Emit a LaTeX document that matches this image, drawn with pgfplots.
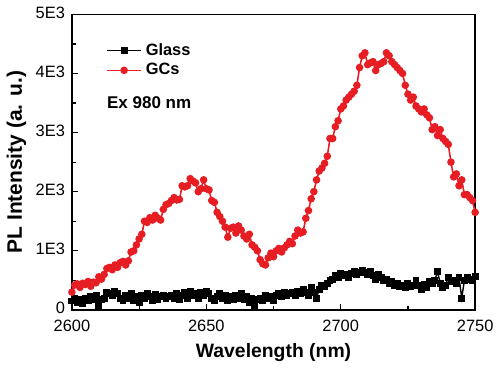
\documentclass[border=0pt]{standalone}
\usepackage{pgfplots}
\pgfplotsset{compat=1.18}
\usepackage{fontspec}
\setmainfont{Liberation Sans}
\definecolor{gcred}{RGB}{230,30,35}
\begin{document}
\begin{tikzpicture}
\begin{axis}[
  scale only axis,
  width=204pt, height=149.5pt,
  xmin=2600, xmax=2750, ymin=0, ymax=5000,
  xtick={2600,2650,2700,2750},
  ytick={0,1000,2000,3000,4000,5000},
  yticklabels={0,1E3,2E3,3E3,4E3,5E3},
  minor xtick={2625,2675,2725},
  minor ytick={500,1500,2500,3500,4500},
  xticklabel style={/pgf/number format/1000 sep={}, yshift=-1.5pt},
  yticklabel style={yshift=1pt},
  /pgf/number format/assume math mode=true,
  tick align=inside,
  xtick pos=bottom, ytick pos=left,
  major tick length=3pt, minor tick length=2pt,
  every tick/.style={black, line width=0.6pt},
  axis line style={line width=0.7pt},
  tick label style={font=\fontsize{8.3}{10}\selectfont},
  xlabel={\bfseries Wavelength (nm)},
  ylabel={\bfseries PL Intensity (a. u.)},
  xlabel style={font=\fontsize{9.8}{11}\selectfont, yshift=1pt},
  ylabel style={font=\fontsize{10.6}{12}\selectfont, yshift=-2pt},
  legend style={at={(rel axis cs:0.07,0.93)}, anchor=north west, draw=none, fill=none,
    font=\bfseries\fontsize{8.3}{9}\selectfont, row sep=-1.5pt},
  legend cell align=left,
]
\addplot[black, line width=0.7pt, mark=square*, mark size=1.4pt, mark options={solid}] coordinates {
(2600,150)(2601,200)(2602,120)(2603,180)(2604,100)(2605,200)(2606,150)(2607,220)(2608,180)(2609,250)
(2610,80)(2611,180)(2612,200)(2613,300)(2614,280)(2615,250)(2616,320)(2617,280)(2618,200)(2619,150)
(2620,250)(2621,200)(2622,280)(2623,150)(2624,230)(2625,120)(2626,250)(2627,200)(2628,280)(2629,220)
(2630,150)(2631,260)(2632,180)(2633,230)(2634,250)(2635,200)(2636,220)(2637,250)(2638,200)(2639,280)
(2640,180)(2641,250)(2642,300)(2643,200)(2644,320)(2645,250)(2646,280)(2647,200)(2648,300)(2649,250)
(2650,320)(2651,280)(2652,200)(2653,150)(2654,230)(2655,280)(2656,200)(2657,250)(2658,150)(2659,220)
(2660,180)(2661,250)(2662,200)(2663,280)(2664,180)(2665,230)(2666,120)(2667,200)(2668,50)(2669,180)
(2670,200)(2671,150)(2672,250)(2673,200)(2674,230)(2675,150)(2676,250)(2677,280)(2678,230)(2679,300)
(2680,250)(2681,280)(2682,300)(2683,250)(2684,320)(2685,280)(2686,350)(2687,300)(2688,250)(2689,380)
(2690,300)(2691,200)(2692,350)(2693,420)(2694,400)(2695,450)(2696,500)(2697,520)(2698,580)(2699,550)
(2700,620)(2701,580)(2702,600)(2703,550)(2704,620)(2705,650)(2706,600)(2707,630)(2708,660)(2709,640)
(2710,600)(2711,650)(2712,580)(2713,520)(2714,600)(2715,550)(2716,500)(2717,520)(2718,450)(2719,480)
(2720,420)(2721,450)(2722,400)(2723,420)(2724,380)(2725,450)(2726,400)(2727,420)(2728,500)(2729,420)
(2730,350)(2731,430)(2732,380)(2733,480)(2734,450)(2735,500)(2736,650)(2737,450)(2738,380)(2739,420)
(2740,550)(2741,480)(2742,500)(2743,450)(2744,550)(2745,200)(2746,500)(2747,550)(2748,520)(2749,500)
(2750,560)
};
\addlegendentry{Glass}
\addplot[gcred, line width=0.8pt, mark=*, mark size=1.5pt, mark options={solid}] coordinates {
(2600,300)(2601,420)(2602,440)(2603,380)(2604,450)(2605,430)(2606,480)(2607,400)(2608,470)(2609,460)
(2610,560)(2611,520)(2612,600)(2613,700)(2614,720)(2615,680)(2616,760)(2617,720)(2618,800)(2619,820)
(2620,760)(2621,830)(2622,980)(2623,1000)(2624,1100)(2625,1200)(2626,1280)(2627,1500)(2628,1480)(2629,1560)
(2630,1520)(2631,1600)(2632,1550)(2633,1520)(2634,1700)(2635,1780)(2636,1800)(2637,1850)(2638,1900)(2639,1860)
(2640,1870)(2641,2100)(2642,2080)(2643,2100)(2644,2220)(2645,2180)(2646,2150)(2647,2000)(2648,2050)(2649,2200)
(2650,2050)(2651,2030)(2652,1850)(2653,1820)(2654,1650)(2655,1580)(2656,1500)(2657,1400)(2658,1230)(2659,1380)
(2660,1400)(2661,1300)(2662,1420)(2663,1350)(2664,1250)(2665,1200)(2666,1280)(2667,1100)(2668,1060)(2669,1000)
(2670,850)(2671,780)(2672,760)(2673,880)(2674,960)(2675,900)(2676,1000)(2677,1040)(2678,980)(2679,1050)
(2680,1100)(2681,1160)(2682,1120)(2683,1250)(2684,1350)(2685,1300)(2686,1320)(2687,1550)(2688,1680)(2689,1880)
(2690,2000)(2691,2200)(2692,2350)(2693,2400)(2694,2480)(2695,2600)(2696,2900)(2697,2900)(2698,3100)(2699,3200)
(2700,3400)(2701,3450)(2702,3550)(2703,3600)(2704,3650)(2705,3700)(2706,3800)(2707,4100)(2708,4300)(2709,4350)
(2710,4150)(2711,4180)(2712,4200)(2713,4050)(2714,4150)(2715,4170)(2716,4200)(2717,4350)(2718,4300)(2719,4200)
(2720,4150)(2721,4100)(2722,4050)(2723,4000)(2724,3800)(2725,3650)(2726,3550)(2727,3600)(2728,3450)(2729,3400)
(2730,3350)(2731,3400)(2732,3300)(2733,3250)(2734,3050)(2735,3100)(2736,2950)(2737,3050)(2738,2900)(2739,2850)
(2740,2800)(2741,2500)(2742,2250)(2743,2300)(2744,2100)(2745,2200)(2746,1950)(2747,1950)(2748,1900)(2749,1850)
(2750,1650)
};
\addlegendentry{GCs}
\node[anchor=west, font=\bfseries\fontsize{8.6}{10}\selectfont] at (axis cs:2610.5,3500) {Ex 980 nm};
\end{axis}
\end{tikzpicture}
\end{document}
